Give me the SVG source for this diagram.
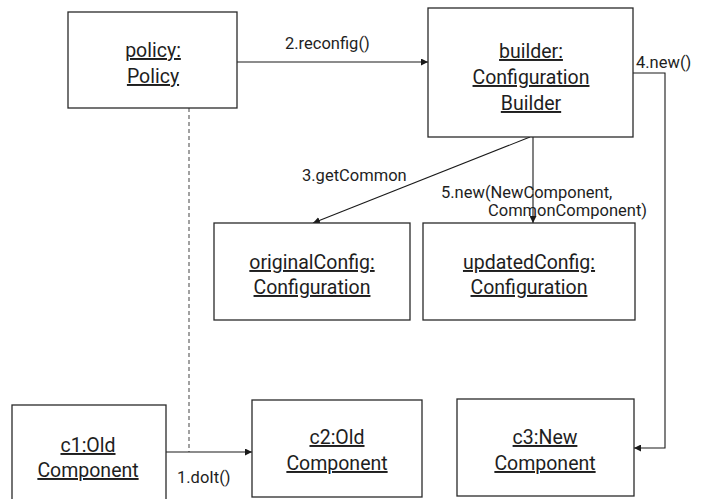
<svg xmlns="http://www.w3.org/2000/svg" width="704" height="499" viewBox="0 0 704 499">
  <style>
    .box { fill: #ffffff; stroke: #2a2a2a; stroke-width: 1.3; }
    .name { font-family: Roboto, "Noto Sans", sans-serif; font-size: 19.5px; fill: #1e1e1e; text-anchor: middle; text-decoration: underline; }
    .msg { font-family: Roboto, "Noto Sans", sans-serif; font-size: 16.5px; fill: #1e1e1e; }
    .link { fill: none; stroke: #1a1a1a; stroke-width: 1.1; }
    .dash { fill: none; stroke: #555555; stroke-width: 1.1; stroke-dasharray: 4 3; }
  </style>
  <defs>
    <marker id="arrow" viewBox="0 0 10 10" refX="10" refY="5" markerWidth="7" markerHeight="7" markerUnits="userSpaceOnUse" orient="auto">
      <path d="M0,0 L10,5 L0,10 z" fill="#1a1a1a"/>
    </marker>
  </defs>

  <rect width="704" height="499" fill="#ffffff"/>

  <!-- connectors -->
  <g id="connectors">
    <line class="dash" x1="189" y1="108" x2="189" y2="452"/>
    <line class="link" x1="237" y1="62" x2="428" y2="62" marker-end="url(#arrow)"/>
    <line class="link" x1="530" y1="137" x2="313" y2="223" marker-end="url(#arrow)"/>
    <line class="link" x1="533" y1="137" x2="533" y2="223" marker-end="url(#arrow)"/>
    <polyline class="link" points="633,73 665,73 665,448 634,448" marker-end="url(#arrow)"/>
    <line class="link" x1="166" y1="452" x2="252" y2="452" marker-end="url(#arrow)"/>
    <text class="msg" x="285" y="49">2.reconfig()</text>
    <text class="msg" x="636" y="68">4.new()</text>
    <text class="msg" x="302" y="181">3.getCommon</text>
    <text class="msg" x="441" y="198">5.new(NewComponent,</text>
    <text class="msg" x="488" y="216">CommonComponent)</text>
    <text class="msg" x="177" y="483">1.doIt()</text>
  </g>

  <g id="policy">
    <rect class="box" x="68" y="12" width="169" height="96"/>
    <text class="name" x="153" y="57">policy:</text>
    <text class="name" x="153" y="83">Policy</text>
  </g>

  <g id="builder">
    <rect class="box" x="428" y="8" width="205" height="129"/>
    <text class="name" x="531" y="58">builder:</text>
    <text class="name" x="531" y="84">Configuration</text>
    <text class="name" x="531" y="110">Builder</text>
  </g>

  <g id="originalConfig">
    <rect class="box" x="214" y="223" width="196" height="97"/>
    <text class="name" x="312" y="269">originalConfig:</text>
    <text class="name" x="312" y="294">Configuration</text>
  </g>

  <g id="updatedConfig">
    <rect class="box" x="423" y="223" width="212" height="97"/>
    <text class="name" x="529" y="269">updatedConfig:</text>
    <text class="name" x="529" y="294">Configuration</text>
  </g>

  <g id="c1">
    <rect class="box" x="12" y="405" width="154" height="110"/>
    <text class="name" x="88" y="452">c1:Old</text>
    <text class="name" x="88" y="477">Component</text>
  </g>

  <g id="c2">
    <rect class="box" x="252" y="400" width="170" height="97"/>
    <text class="name" x="337" y="444">c2:Old</text>
    <text class="name" x="337" y="470">Component</text>
  </g>

  <g id="c3">
    <rect class="box" x="457" y="399" width="177" height="97"/>
    <text class="name" x="545" y="444">c3:New</text>
    <text class="name" x="545" y="470">Component</text>
  </g>
</svg>
